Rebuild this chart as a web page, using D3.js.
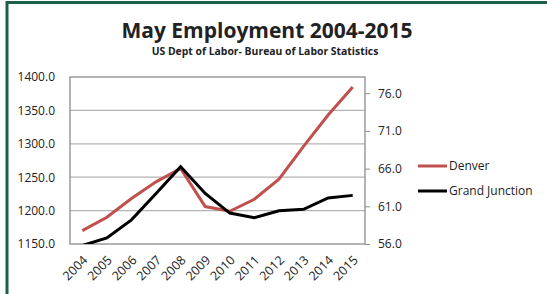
<!DOCTYPE html>
<html>
<head>
<meta charset="utf-8">
<script src="https://cdn.jsdelivr.net/npm/d3@7"></script>
<style>
body{margin:0;background:#fff;}
svg text{font-family:"Open Sans","DejaVu Sans",sans-serif;fill:#222;}
</style>
</head>
<body>
<div id="chart"></div>
<script>
// data
var years=["2004","2005","2006","2007","2008","2009","2010","2011","2012","2013","2014","2015"];
var denver=[1170,1190,1218,1243,1263,1206,1199,1217,1247,1296,1343,1385];
var grandJunction=[55.8,56.8,59.2,62.7,66.25,62.7,60.1,59.5,60.4,60.6,62.1,62.45];
var leftTicks=[1150,1200,1250,1300,1350,1400];
var rightTicks=[56,61,66,71,76];

var W=547,H=294;
var pl=70,pr=365,pt=77,pb=244;

var svg=d3.select("#chart").append("svg").attr("width",W).attr("height",H);

// green frame (top and left visible)
svg.append("line").attr("x1",6.5).attr("x2",W).attr("y1",2.5).attr("y2",2.5)
	.attr("stroke","#1b6148").attr("stroke-width",3);
svg.append("line").attr("x1",7).attr("x2",7).attr("y1",1).attr("y2",H)
	.attr("stroke","#1b6148").attr("stroke-width",3);

// titles
svg.append("text").attr("x",267).attr("y",38).attr("text-anchor","middle")
	.style("font-size","21px").style("font-weight","bold").text("May Employment 2004-2015");
svg.append("text").attr("x",265).attr("y",55).attr("text-anchor","middle")
	.style("font-size","10.4px").style("font-weight","bold").text("US Dept of Labor- Bureau of Labor Statistics");

var x=d3.scaleBand().domain(years).range([pl,pr]);
var yL=d3.scaleLinear().domain([1150,1400]).range([pb,pt]);
var yR=d3.scaleLinear().domain([56,78.15]).range([pb,pt]);

// gridlines
svg.append("g").selectAll("line").data(leftTicks.slice(1,-1)).enter().append("line")
	.attr("x1",pl).attr("x2",pr)
	.attr("y1",function(d){return yL(d);}).attr("y2",function(d){return yL(d);})
	.attr("stroke","#b3b3b3").attr("stroke-width",1.2);

// plot border
svg.append("rect").attr("x",pl).attr("y",pt).attr("width",pr-pl).attr("height",pb-pt)
	.attr("fill","none").attr("stroke","#8c8c8c").attr("stroke-width",1.3);

// left axis
var gL=svg.append("g").attr("transform","translate("+pl+",0)")
	.call(d3.axisLeft(yL).tickValues(leftTicks).tickFormat(d3.format(".1f")).tickSize(0).tickPadding(15));
gL.select(".domain").remove();
gL.selectAll("text").style("font-size","12px");

// right axis
var gR=svg.append("g").attr("transform","translate("+pr+",0)")
	.call(d3.axisRight(yR).tickValues(rightTicks).tickFormat(d3.format(".1f")).tickSize(5).tickPadding(8));
gR.select(".domain").remove();
gR.selectAll("line").attr("stroke","#8c8c8c");
gR.selectAll("text").style("font-size","12px");

// x axis
var gX=svg.append("g").attr("transform","translate(0,"+pb+")")
	.call(d3.axisBottom(x).tickSize(0).tickPadding(0));
gX.select(".domain").remove();
gX.selectAll("text")
	.style("font-size","12.5px")
	.attr("text-anchor","end")
	.attr("dy","0")
	.attr("transform","translate(6,17) rotate(-45)");

// lines
var cx=function(d,i){return x(years[i])+x.bandwidth()/2;};
var lineL=d3.line().x(cx).y(function(d){return yL(d);});
var lineR=d3.line().x(cx).y(function(d){return yR(d);});

svg.append("defs").append("clipPath").attr("id","clip").append("rect")
	.attr("x",pl).attr("y",pt-5).attr("width",pr-pl).attr("height",pb-pt+5);

svg.append("path").attr("d",lineL(denver)).attr("fill","none")
	.attr("stroke","#c0504d").attr("stroke-width",3).attr("clip-path","url(#clip)");
svg.append("path").attr("d",lineR(grandJunction)).attr("fill","none")
	.attr("stroke","#000").attr("stroke-width",3).attr("clip-path","url(#clip)");

// legend
var legend=[{name:"Denver",color:"#c0504d",y:166},{name:"Grand Junction",color:"#000",y:191}];
var lg=svg.append("g").selectAll("g").data(legend).enter().append("g");
lg.append("line").attr("x1",418).attr("x2",447)
	.attr("y1",function(d){return d.y;}).attr("y2",function(d){return d.y;})
	.attr("stroke",function(d){return d.color;}).attr("stroke-width",3);
lg.append("text").attr("x",449).attr("y",function(d){return d.y+4;})
	.style("font-size","12px").text(function(d){return d.name;});
</script>
</body>
</html>
